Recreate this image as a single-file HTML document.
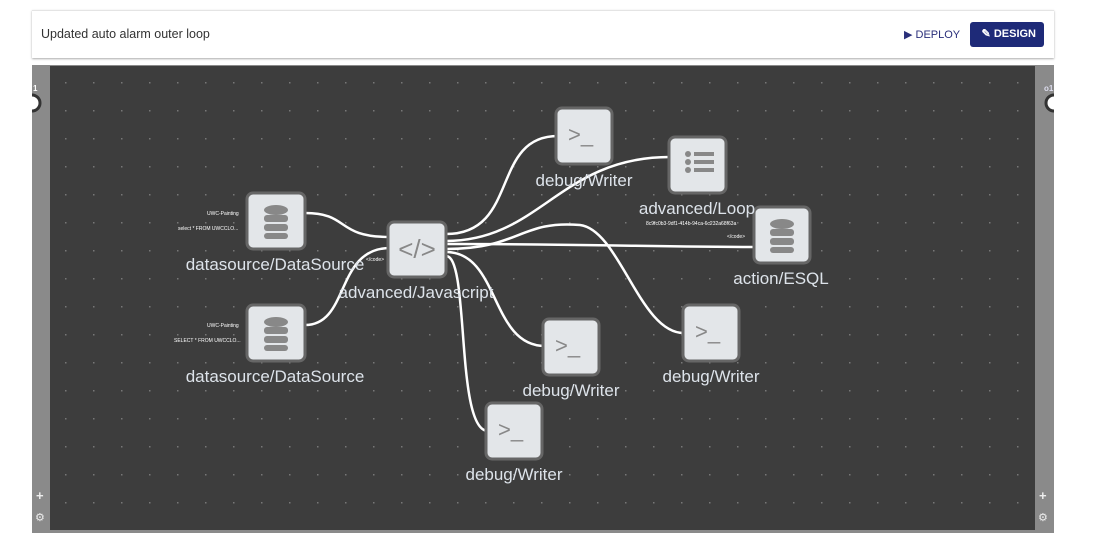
<!DOCTYPE html>
<html><head><style>
body{margin:0;width:1100px;height:557px;background:#fff;font-family:"Liberation Sans",sans-serif;overflow:hidden;position:relative}
.hdr{position:absolute;left:32px;top:10px;width:1022px;height:47px;background:#fff;border-top:1px solid #e4e4e4;box-shadow:0 1px 2px #aaa}
.title{position:absolute;left:9px;top:16px;font-size:12.5px;color:#333}
.deploy{position:absolute;left:872px;top:17px;font-size:11px;color:#2a2f7a}
.design{position:absolute;left:938px;top:11px;width:74px;height:25px;background:#1e2a78;border-radius:3px;color:#fff;font-size:11px;font-weight:bold;line-height:25px;text-align:right;box-sizing:border-box;padding-right:8px}
.canvas{position:absolute;left:32px;top:65px;width:1022px;height:468px;background:#8a8a8a}
.dark{position:absolute;left:18px;top:1px;width:985px;height:464px;background:#3d3d3d}
</style></head><body>
<div class="hdr"><div class="title">Updated auto alarm outer loop</div>
<div class="deploy">▶ DEPLOY</div><div class="design">✎ DESIGN</div></div>
<div class="canvas"><div class="dark"></div></div>
<svg width="1100" height="557" style="position:absolute;left:0;top:0">
<defs><pattern id="g" x="65" y="82" width="28" height="28" patternUnits="userSpaceOnUse"><rect width="1.5" height="1.5" fill="#777"/></pattern>
<clipPath id="cl"><rect x="32" y="60" width="1022" height="100"/></clipPath></defs>
<rect x="50" y="66" width="985" height="464" fill="url(#g)"/>
<g clip-path="url(#cl)">
<circle cx="32" cy="103" r="8" fill="#fff" stroke="#333" stroke-width="3"/>
<circle cx="1054" cy="103" r="8" fill="#fff" stroke="#333" stroke-width="3"/>
</g>
<text x="33" y="91" font-size="8" fill="#fff" font-weight="bold">1</text>
<text x="1044" y="91" font-size="8" fill="#dde" font-weight="bold">o1</text>
<text x="36" y="500" font-size="13" fill="#eee" font-weight="bold">+</text>
<text x="1039" y="500" font-size="13" fill="#eee" font-weight="bold">+</text>
<text x="35" y="521" font-size="11" fill="#eee">⚙</text>
<text x="1038" y="521" font-size="11" fill="#eee">⚙</text>
<g fill="none" stroke="#fff" stroke-width="2.5">
<path d="M305 213 C350 213,335 237,390 237"/>
<path d="M305 325 C350 325,335 248,390 248"/>
<path d="M446 234 C520 234,490 136,558 136"/>
<path d="M446 241 C540 241,560 157,670 157"/>
<path d="M446 244 C600 244,650 247,755 247"/>
<path d="M446 249 C520 249,520 220,580 225 C620 230,640 335,685 333"/>
<path d="M446 252 C500 252,490 346,545 346"/>
<path d="M446 256 C470 256,455 431,488 431"/>
</g>
<g font-size="5" fill="#fff">
<text x="207" y="215">UWC-Painting</text><text x="178" y="230">select * FROM UWCCLO...</text>
<text x="207" y="327">UWC-Painting</text><text x="174" y="342">SELECT * FROM UWCCLO...</text>
<text x="366" y="261">&lt;/code&gt;</text>
<text x="646" y="225">8c9fc0b3-9df1-414b-94ca-6c232a68f63a</text><text x="727" y="238">&lt;/code&gt;</text>
</g>
<g>
<g transform="translate(247,193)"><rect width="58" height="56" rx="6" fill="#e3e6e9" stroke="#666" stroke-width="3"/><ellipse cx="29" cy="17" rx="12" ry="5" fill="#888"/><rect x="17" y="22" width="24" height="7" rx="3" fill="#888"/><rect x="17" y="31" width="24" height="7" rx="3" fill="#888"/><rect x="17" y="40" width="24" height="6" rx="3" fill="#888"/></g>
<g transform="translate(247,305)"><rect width="58" height="56" rx="6" fill="#e3e6e9" stroke="#666" stroke-width="3"/><ellipse cx="29" cy="17" rx="12" ry="5" fill="#888"/><rect x="17" y="22" width="24" height="7" rx="3" fill="#888"/><rect x="17" y="31" width="24" height="7" rx="3" fill="#888"/><rect x="17" y="40" width="24" height="6" rx="3" fill="#888"/></g>
<g transform="translate(388,222)"><rect width="58" height="55" rx="6" fill="#e3e6e9" stroke="#666" stroke-width="3"/><text x="29" y="36" font-size="26" fill="#888" text-anchor="middle">&lt;/&gt;</text></g>
<g transform="translate(754,207)"><rect width="56" height="56" rx="6" fill="#e3e6e9" stroke="#666" stroke-width="3"/><ellipse cx="28" cy="17" rx="12" ry="5" fill="#888"/><rect x="16" y="22" width="24" height="7" rx="3" fill="#888"/><rect x="16" y="31" width="24" height="7" rx="3" fill="#888"/><rect x="16" y="40" width="24" height="6" rx="3" fill="#888"/></g>
<g transform="translate(669,137)"><rect width="57" height="56" rx="6" fill="#e3e6e9" stroke="#666" stroke-width="3"/><g fill="#888"><circle cx="19" cy="17" r="3"/><circle cx="19" cy="25" r="3"/><circle cx="19" cy="33" r="3"/><rect x="25" y="15" width="20" height="4"/><rect x="25" y="23" width="20" height="4"/><rect x="25" y="31" width="20" height="4"/></g></g>
</g>
<g>
<g transform="translate(556,108)"><rect width="56" height="56" rx="6" fill="#e3e6e9" stroke="#666" stroke-width="3"/><text x="12" y="34" font-size="22" fill="#888">&gt;_</text></g>
<g transform="translate(543,319)"><rect width="56" height="56" rx="6" fill="#e3e6e9" stroke="#666" stroke-width="3"/><text x="12" y="34" font-size="22" fill="#888">&gt;_</text></g>
<g transform="translate(683,305)"><rect width="56" height="56" rx="6" fill="#e3e6e9" stroke="#666" stroke-width="3"/><text x="12" y="34" font-size="22" fill="#888">&gt;_</text></g>
<g transform="translate(486,403)"><rect width="56" height="56" rx="6" fill="#e3e6e9" stroke="#666" stroke-width="3"/><text x="12" y="34" font-size="22" fill="#888">&gt;_</text></g>
</g>
<g font-size="17" fill="#dde3ea" text-anchor="middle">
<text x="275" y="270">datasource/DataSource</text>
<text x="275" y="382">datasource/DataSource</text>
<text x="416" y="298">advanced/Javascript</text>
<text x="584" y="186">debug/Writer</text>
<text x="697" y="214">advanced/Loop</text>
<text x="781" y="284">action/ESQL</text>
<text x="571" y="396">debug/Writer</text>
<text x="711" y="382">debug/Writer</text>
<text x="514" y="480">debug/Writer</text>
</g>
</svg>
</body></html>
